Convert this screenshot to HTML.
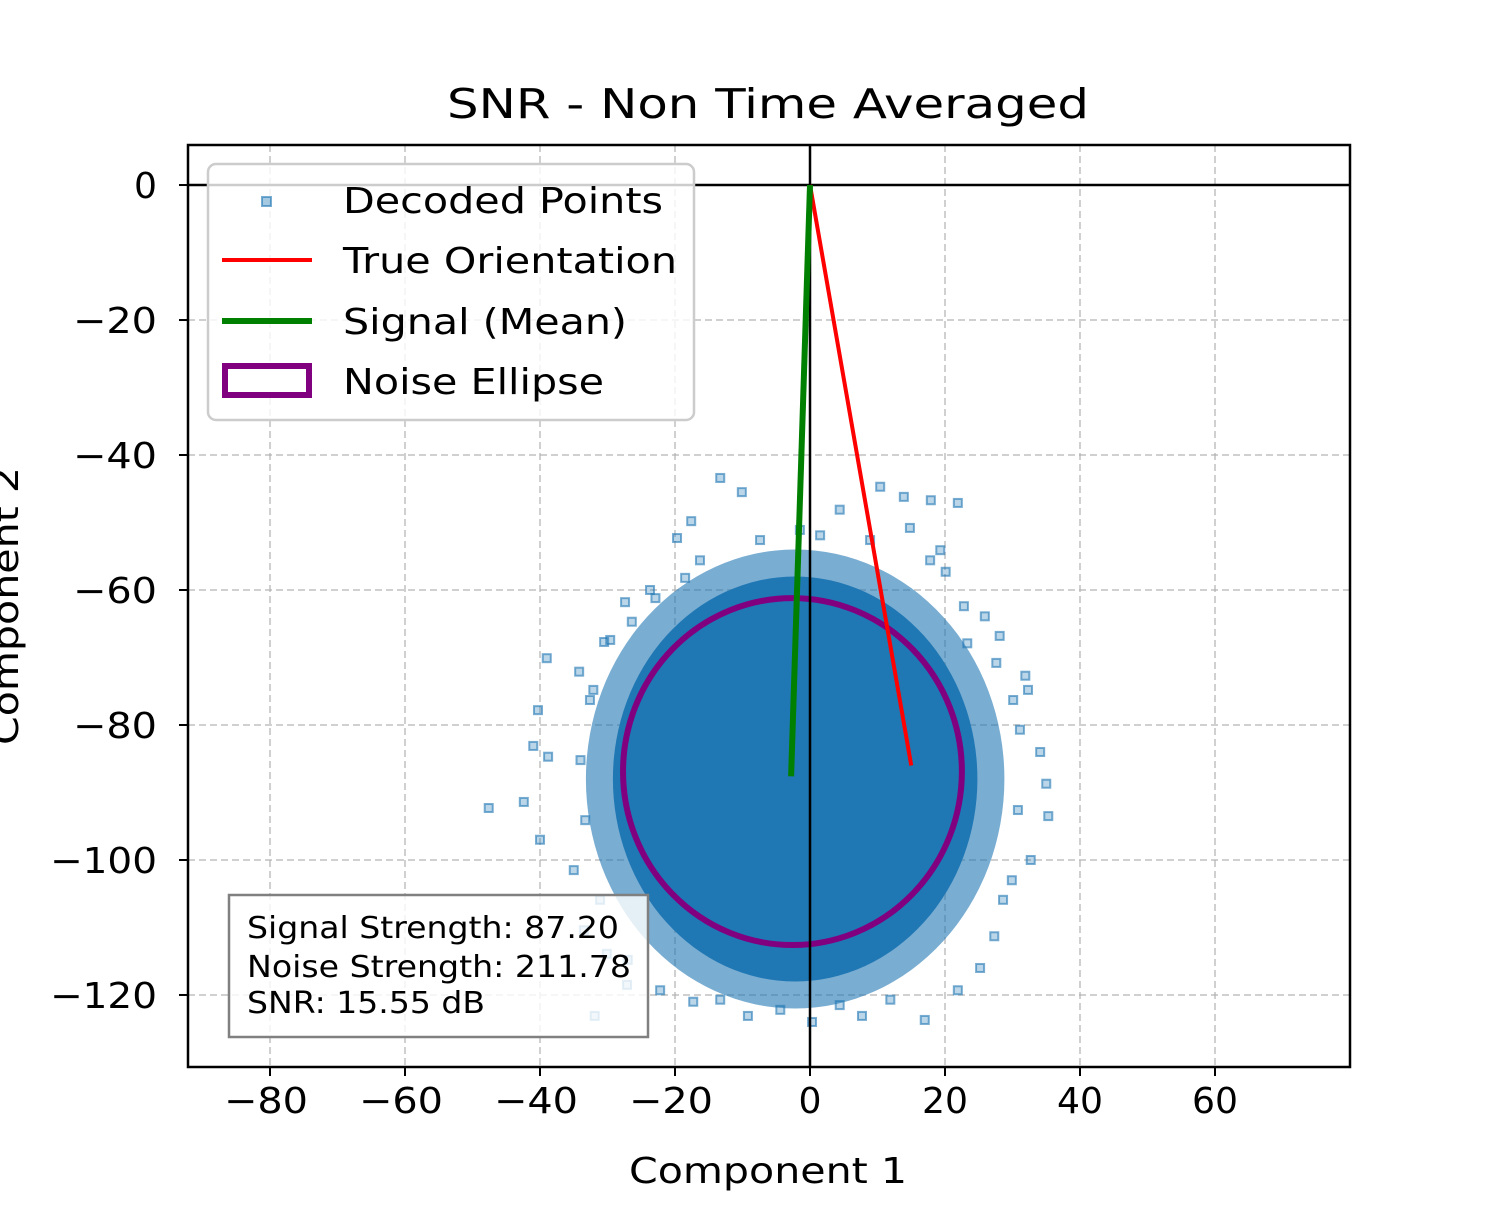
<!DOCTYPE html>
<html><head><meta charset="utf-8">
<style>
html,body{margin:0;padding:0;background:#fff;}
svg text{font-family:"DejaVu Sans","Liberation Sans",sans-serif;fill:#000;}
</style></head>
<body>
<svg id="chart" width="1500" height="1200" viewBox="0 0 1500 1200" xmlns="http://www.w3.org/2000/svg">
<text x="447" y="118" font-size="41" textLength="642" lengthAdjust="spacingAndGlyphs">SNR - Non Time Averaged</text>
<g id="grid"></g>
<g id="cloud"></g>
<g id="marks"></g>
<rect x="188" y="145" width="1162" height="922" fill="none" stroke="#000" stroke-width="2.5"/>
<g id="ticks"></g>
<text x="629" y="1183" font-size="36" textLength="278" lengthAdjust="spacingAndGlyphs">Component 1</text>
<text transform="translate(18,745) rotate(-90)" font-size="36" textLength="278" lengthAdjust="spacingAndGlyphs">Component 2</text>
<g>
<rect x="208" y="164" width="486" height="256" rx="8" fill="#fff" fill-opacity="0.8" stroke="#ccc" stroke-width="2.5"/>
<rect x="262" y="197" width="9" height="9" fill="#1f77b4" fill-opacity="0.4" stroke="#1f77b4" stroke-opacity="0.6" stroke-width="2"/>
<text x="343" y="213" font-size="36" textLength="320" lengthAdjust="spacingAndGlyphs">Decoded Points</text>
<line x1="222" y1="260" x2="312" y2="260" stroke="red" stroke-width="4"/>
<text x="343" y="273" font-size="36" textLength="334" lengthAdjust="spacingAndGlyphs">True Orientation</text>
<line x1="222" y1="321" x2="312" y2="321" stroke="green" stroke-width="6"/>
<text x="343" y="334" font-size="36" textLength="284" lengthAdjust="spacingAndGlyphs">Signal (Mean)</text>
<rect x="225" y="366" width="84" height="29" fill="#fff" stroke="purple" stroke-width="6"/>
<text x="343" y="394" font-size="36" textLength="261" lengthAdjust="spacingAndGlyphs">Noise Ellipse</text>
</g>
<g>
<rect x="229" y="895" width="419" height="142" fill="#fff" fill-opacity="0.8" stroke="#808080" stroke-width="2.5"/>
<text x="247" y="938" font-size="30" textLength="372" lengthAdjust="spacingAndGlyphs">Signal Strength: 87.20</text>
<text x="247" y="977" font-size="30" textLength="384" lengthAdjust="spacingAndGlyphs">Noise Strength: 211.78</text>
<text x="247" y="1013" font-size="30" textLength="238" lengthAdjust="spacingAndGlyphs">SNR: 15.55 dB</text>
</g>
</svg>
<script>
const xTicks=[-80,-60,-40,-20,0,20,40,60];
const yTicks=[0,-20,-40,-60,-80,-100,-120];
const trueVec=[15,-86];
const signalVec=[-2.8,-87.6];
const ellipseCenter=[-2.6,-86.9];
const ellipseRadii=[25.1,25.7];
const coreCenter=[-2.2,-88];
const coreRadii=[29,32];
const outX=[-13.3,-10.1,10.4,13.9,17.9,21.9,-17.6,-19.7,19.3,20.1,22.8,25.9,28.1,31.9,32.3,34.1,35,35.3,32.7,28.6,25.2,17,7.7,0.3,-9.2,-17.3,-31.9,-27.1,-30.1,-33.5,-35,-40,-47.6,-42.4,-41,-38.8,-40.3,-39,-34.2,-32.1,-27.4,-22.9,-18.5,-26.4,-30.5,23.3,27.6,30.1,31.1,30.8,29.9,27.3,21.9,11.9,4.4,-4.4,-13.3,-22.2,-27,-31.1,-33.3,-34,-32.6,-29.6,-23.7,-16.3,-7.4,1.5,8.9,14.8,17.8,-1.5,4.4];
const outY=[-43.4,-45.5,-44.7,-46.2,-46.7,-47.1,-49.8,-52.3,-54.1,-57.3,-62.4,-63.9,-66.8,-72.7,-74.8,-84,-88.7,-93.5,-100,-105.9,-116,-123.7,-123.1,-124,-123.1,-121,-123.1,-118.5,-113.9,-110.4,-101.5,-97,-92.3,-91.4,-83.1,-84.7,-77.8,-70.1,-72.1,-74.8,-61.8,-61.2,-58.2,-64.7,-67.7,-67.9,-70.8,-76.3,-80.7,-92.6,-103,-111.3,-119.3,-120.7,-121.5,-122.2,-120.7,-119.3,-114.8,-105.9,-94.1,-85.2,-76.3,-67.4,-60,-55.6,-52.6,-51.9,-52.6,-50.8,-55.6,-51.1,-48.1];

const X0=188,X1=1350,XMIN=-92.15,XMAX=80;
const Y0=145,Y1=1067,YMAX=5.93,YMIN=-130.67;
const sx=v=>X0+(v-XMIN)/(XMAX-XMIN)*(X1-X0);
const sy=v=>Y0+(YMAX-v)/(YMAX-YMIN)*(Y1-Y0);
const NS="http://www.w3.org/2000/svg";
function mk(tag,parent,attrs){const e=document.createElementNS(NS,tag);for(const k in attrs)e.setAttribute(k,attrs[k]);parent.appendChild(e);return e;}
function lw(t){return (t<0?38:0)+23*String(Math.abs(t)).length;}
const grid=document.getElementById('grid'),ticks=document.getElementById('ticks');
xTicks.forEach(t=>{const x=sx(t);
 const g=mk('line',grid,{x1:x,x2:x,y1:Y0,y2:Y1,stroke:'#b0b0b0','stroke-width':2,'stroke-dasharray':'7,4','stroke-opacity':0.6});
 
 
 const tk=mk('line',ticks,{x1:x,x2:x,y1:Y1,y2:Y1+9,stroke:'#000','stroke-width':2});
 
 
 const w=lw(t);
 const tx=mk('text',ticks,{x:x-w/2-(t<0?4:0),y:Y1+46,'font-size':36,textLength:w,lengthAdjust:'spacingAndGlyphs'});
 tx.textContent=(t<0?'\u2212':'')+Math.abs(t);
 
 
});
yTicks.forEach(t=>{const y=sy(t);
 const g=mk('line',grid,{x1:X0,x2:X1,y1:y,y2:y,stroke:'#b0b0b0','stroke-width':2,'stroke-dasharray':'7,4','stroke-opacity':0.6});
 
 
 const tk=mk('line',ticks,{x1:X0-9,x2:X0,y1:y,y2:y,stroke:'#000','stroke-width':2});
 
 
 const w=lw(t);
 const tx=mk('text',ticks,{x:X0-31-w,y:y+13,'font-size':36,textLength:w,lengthAdjust:'spacingAndGlyphs'});
 tx.textContent=(t<0?'\u2212':'')+Math.abs(t);
 
 
});
const cloud=document.getElementById('cloud');
const halo=mk('ellipse',cloud,{cx:sx(coreCenter[0]),cy:sy(coreCenter[1]),rx:(coreRadii[0]+2)*6.75,ry:(coreRadii[1]+2)*6.75,fill:'#1f77b4','fill-opacity':0.6});


const core=mk('ellipse',cloud,{cx:sx(coreCenter[0]),cy:sy(coreCenter[1]),rx:(coreRadii[0]-2)*6.75,ry:(coreRadii[1]-2)*6.75,fill:'#1f77b4'});


outX.forEach((v,i)=>{
 const p=mk('rect',cloud,{x:sx(v)-4,y:sy(outY[i])-4,width:8,height:8,fill:'#1f77b4','fill-opacity':0.3,stroke:'#1f77b4','stroke-opacity':0.6,'stroke-width':2});
 
 
});
const marks=document.getElementById('marks');
const ell=mk('ellipse',marks,{cx:sx(ellipseCenter[0]),cy:sy(ellipseCenter[1]),rx:ellipseRadii[0]*6.75,ry:ellipseRadii[1]*6.75,fill:'none',stroke:'purple','stroke-width':6});


const ax=mk('line',marks,{x1:X0,x2:X1,y1:sy(0),y2:sy(0),stroke:'#000','stroke-width':2.5});


const ay=mk('line',marks,{x1:sx(0),x2:sx(0),y1:Y0,y2:Y1,stroke:'#000','stroke-width':2.5});


const tl=mk('line',marks,{x1:sx(0),y1:sy(0),x2:sx(trueVec[0]),y2:sy(trueVec[1]),stroke:'red','stroke-width':4});


const sl=mk('line',marks,{x1:sx(0),y1:sy(0),x2:sx(signalVec[0]),y2:sy(signalVec[1]),stroke:'green','stroke-width':6});


</script>
</body></html>
